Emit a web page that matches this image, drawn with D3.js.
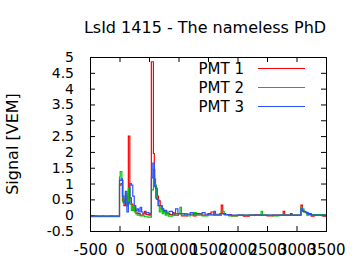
<!DOCTYPE html>
<meta charset="utf-8">
<title>LsId 1415 signal</title>
<style>
body { margin: 0; background: #ffffff; }
text { font-family: "DejaVu Sans", sans-serif; fill: #000000; }
.frame { fill: none; stroke: #000000; stroke-width: 1; }
.axis line { stroke: #000000; }
.axis path { display: none; }
.trace { fill: none; stroke-width: 1.2; }
</style>
<body>
<script src="https://d3js.org/d3.v7.min.js"></script>
<script>

// ---- data: [start time ns, signal VEM], step holds until next start
var pmt1 = [[-500,-0.03],[0,0.95],[25,1.0],[50,0.45],[75,0.3],[100,0.6],[125,0.3],[150,2.5],[175,0.55],
  [200,0.35],[225,0.15],[250,0.25],[275,0.1],[300,0.05],[350,0.0],[400,0.05],[425,0.12],[450,0.02],
  [500,0.0],[525,0.05],[540,4.85],[575,1.95],[590,1.15],[610,0.85],[640,0.6],[660,0.45],[690,0.3],
  [710,0.2],[740,0.12],[780,0.05],[850,0.02],[900,0.08],[925,0.0],[1000,0.05],[1050,-0.02],[1150,0.03],
  [1250,-0.02],[1300,0.03],[1400,0.0],[1500,0.05],[1550,0.1],[1600,0.0],[1725,0.32],[1750,0.05],
  [1800,0.02],[1900,-0.02],[2000,0.0],[2100,-0.03],[2200,0.0],[2300,0.02],[2400,0.0],[2500,-0.02],
  [2600,0.0],[2775,0.12],[2800,0.0],[2900,0.05],[2925,0.0],[3075,0.32],[3100,0.15],[3125,0.1],
  [3175,0.05],[3250,-0.03],[3300,0.0],[3450,-0.03]];

var pmt2 = [[-500,-0.05],[-400,-0.02],[-375,-0.05],[-300,-0.02],[-275,-0.05],[-150,-0.02],[-125,-0.05],
  [0,1.2],[12,1.38],[40,1.1],[60,0.4],[75,0.5],[100,0.7],[125,0.3],[150,0.85],[175,0.35],[200,0.15],
  [225,0.3],[250,0.1],[275,0.05],[300,0.0],[350,-0.02],[425,-0.05],[475,-0.06],[540,0.8],[575,1.45],
  [600,0.95],[625,0.5],[650,0.3],[675,0.1],[700,0.25],[725,0.05],[750,0.1],[775,0.0],[800,0.08],
  [825,-0.03],[900,0.0],[950,0.05],[1025,0.25],[1050,0.0],[1100,0.05],[1150,-0.02],[1200,0.0],
  [1275,0.08],[1300,0.0],[1400,-0.02],[1500,0.0],[1725,0.12],[1775,0.02],[1850,-0.02],[2000,0.0],
  [2400,0.12],[2425,0.0],[2600,-0.02],[2700,0.0],[3075,0.25],[3100,0.2],[3125,0.1],[3175,0.0],[3200,0.02]];

var pmt3 = [[-500,-0.03],[0,1.1],[25,1.15],[50,0.6],[75,0.4],[100,0.75],[125,0.1],[150,0.4],[175,1.0],
  [200,0.95],[225,0.6],[250,0.3],[275,0.15],[300,0.2],[325,0.1],[350,0.25],[375,0.1],[400,0.05],
  [450,0.08],[500,0.05],[540,1.18],[565,1.65],[590,0.9],[615,0.55],[640,0.5],[665,0.3],[700,0.3],
  [725,0.2],[750,0.15],[800,0.1],[850,0.12],[900,0.05],[950,0.2],[990,0.05],[1100,0.03],[1200,0.08],
  [1250,0.05],[1400,0.08],[1450,0.03],[1600,0.12],[1625,0.03],[1700,0.05],[1775,0.02],[1850,0.0],
  [3075,0.2],[3100,0.12],[3150,0.08],[3200,0.02],[3250,0.0]];

var series = [
  {name: "PMT 1", color: "#ff0000", data: pmt1},
  {name: "PMT 2", color: "#00c800", data: pmt2},
  {name: "PMT 3", color: "#2b50ff", data: pmt3}
];

var xTicks = [-500,0,500,1000,1500,2000,2500,3000,3500];
var yTicks = [-0.5,0,0.5,1,1.5,2,2.5,3,3.5,4,4.5,5];
var tEnd = 3500;

var width = 360;
var height = 270;
var pl = 90, pr = 326, pt = 57, pb = 231;

var x = d3.scaleLinear().domain([-500, 3500]).range([pl, pr]);
var y = d3.scaleLinear().domain([-0.5, 5]).range([pb, pt]);

var svg = d3.select("body").append("svg")
    .attr("width", width)
    .attr("height", height);

svg.append("defs").append("clipPath").attr("id", "plot")
  .append("rect")
    .attr("x", pl).attr("y", pt)
    .attr("width", pr - pl).attr("height", pb - pt);

// axes, ticks inward on all four sides
svg.append("g").attr("class", "axis")
    .attr("transform", "translate(0," + pb + ")")
    .call(d3.axisBottom(x).tickValues(xTicks).tickSize(-5).tickPadding(13).tickFormat(function(d) { return String(d); }))
    .selectAll("text").style("font-size", "15px").attr("fill", "#000");

svg.append("g").attr("class", "axis")
    .attr("transform", "translate(0," + pt + ")")
    .call(d3.axisTop(x).tickValues(xTicks).tickSize(-5).tickFormat(""));

svg.append("g").attr("class", "axis")
    .attr("transform", "translate(" + pl + ",0)")
    .call(d3.axisLeft(y).tickValues(yTicks).tickSize(-5).tickPadding(16).tickFormat(function(d) { return String(d); }))
    .selectAll("text").style("font-size", "14px").attr("fill", "#000");

svg.append("g").attr("class", "axis")
    .attr("transform", "translate(" + pr + ",0)")
    .call(d3.axisRight(y).tickValues(yTicks).tickSize(-5).tickFormat(""));

// traces
var line = d3.line()
    .x(function(d) { return x(d[0]); })
    .y(function(d) { return y(d[1]); })
    .curve(d3.curveStepAfter);

svg.append("g").attr("clip-path", "url(#plot)")
  .selectAll("path")
  .data(series)
  .enter().append("path")
    .attr("class", "trace")
    .attr("stroke", function(d) { return d.color; })
    .attr("d", function(d) {
      var pts = d.data.slice();
      pts.push([tEnd, pts[pts.length - 1][1]]);
      return line(pts);
    });

svg.append("rect")
    .attr("class", "frame")
    .attr("x", pl + 0.5).attr("y", pt + 0.5)
    .attr("width", pr - pl).attr("height", pb - pt);

// legend
var lg = svg.append("g").selectAll("g")
  .data(series)
  .enter().append("g")
    .attr("transform", function(d, i) { return "translate(0," + (68.5 + i * 19) + ")"; });
lg.append("text")
    .attr("x", 244).attr("y", 5)
    .attr("text-anchor", "end")
    .style("font-size", "15px")
    .text(function(d) { return d.name; });
lg.append("line")
    .attr("x1", 258).attr("x2", 305)
    .attr("stroke", function(d) { return d.color; })
    .attr("stroke-width", 1);

// title and axis label
svg.append("text")
    .attr("x", 205).attr("y", 33)
    .attr("text-anchor", "middle")
    .style("font-size", "16px")
    .text("LsId 1415 - The nameless PhD");

svg.append("text")
    .attr("transform", "translate(18,144) rotate(-90)")
    .attr("text-anchor", "middle")
    .style("font-size", "16px")
    .text("Signal [VEM]");

</script>
